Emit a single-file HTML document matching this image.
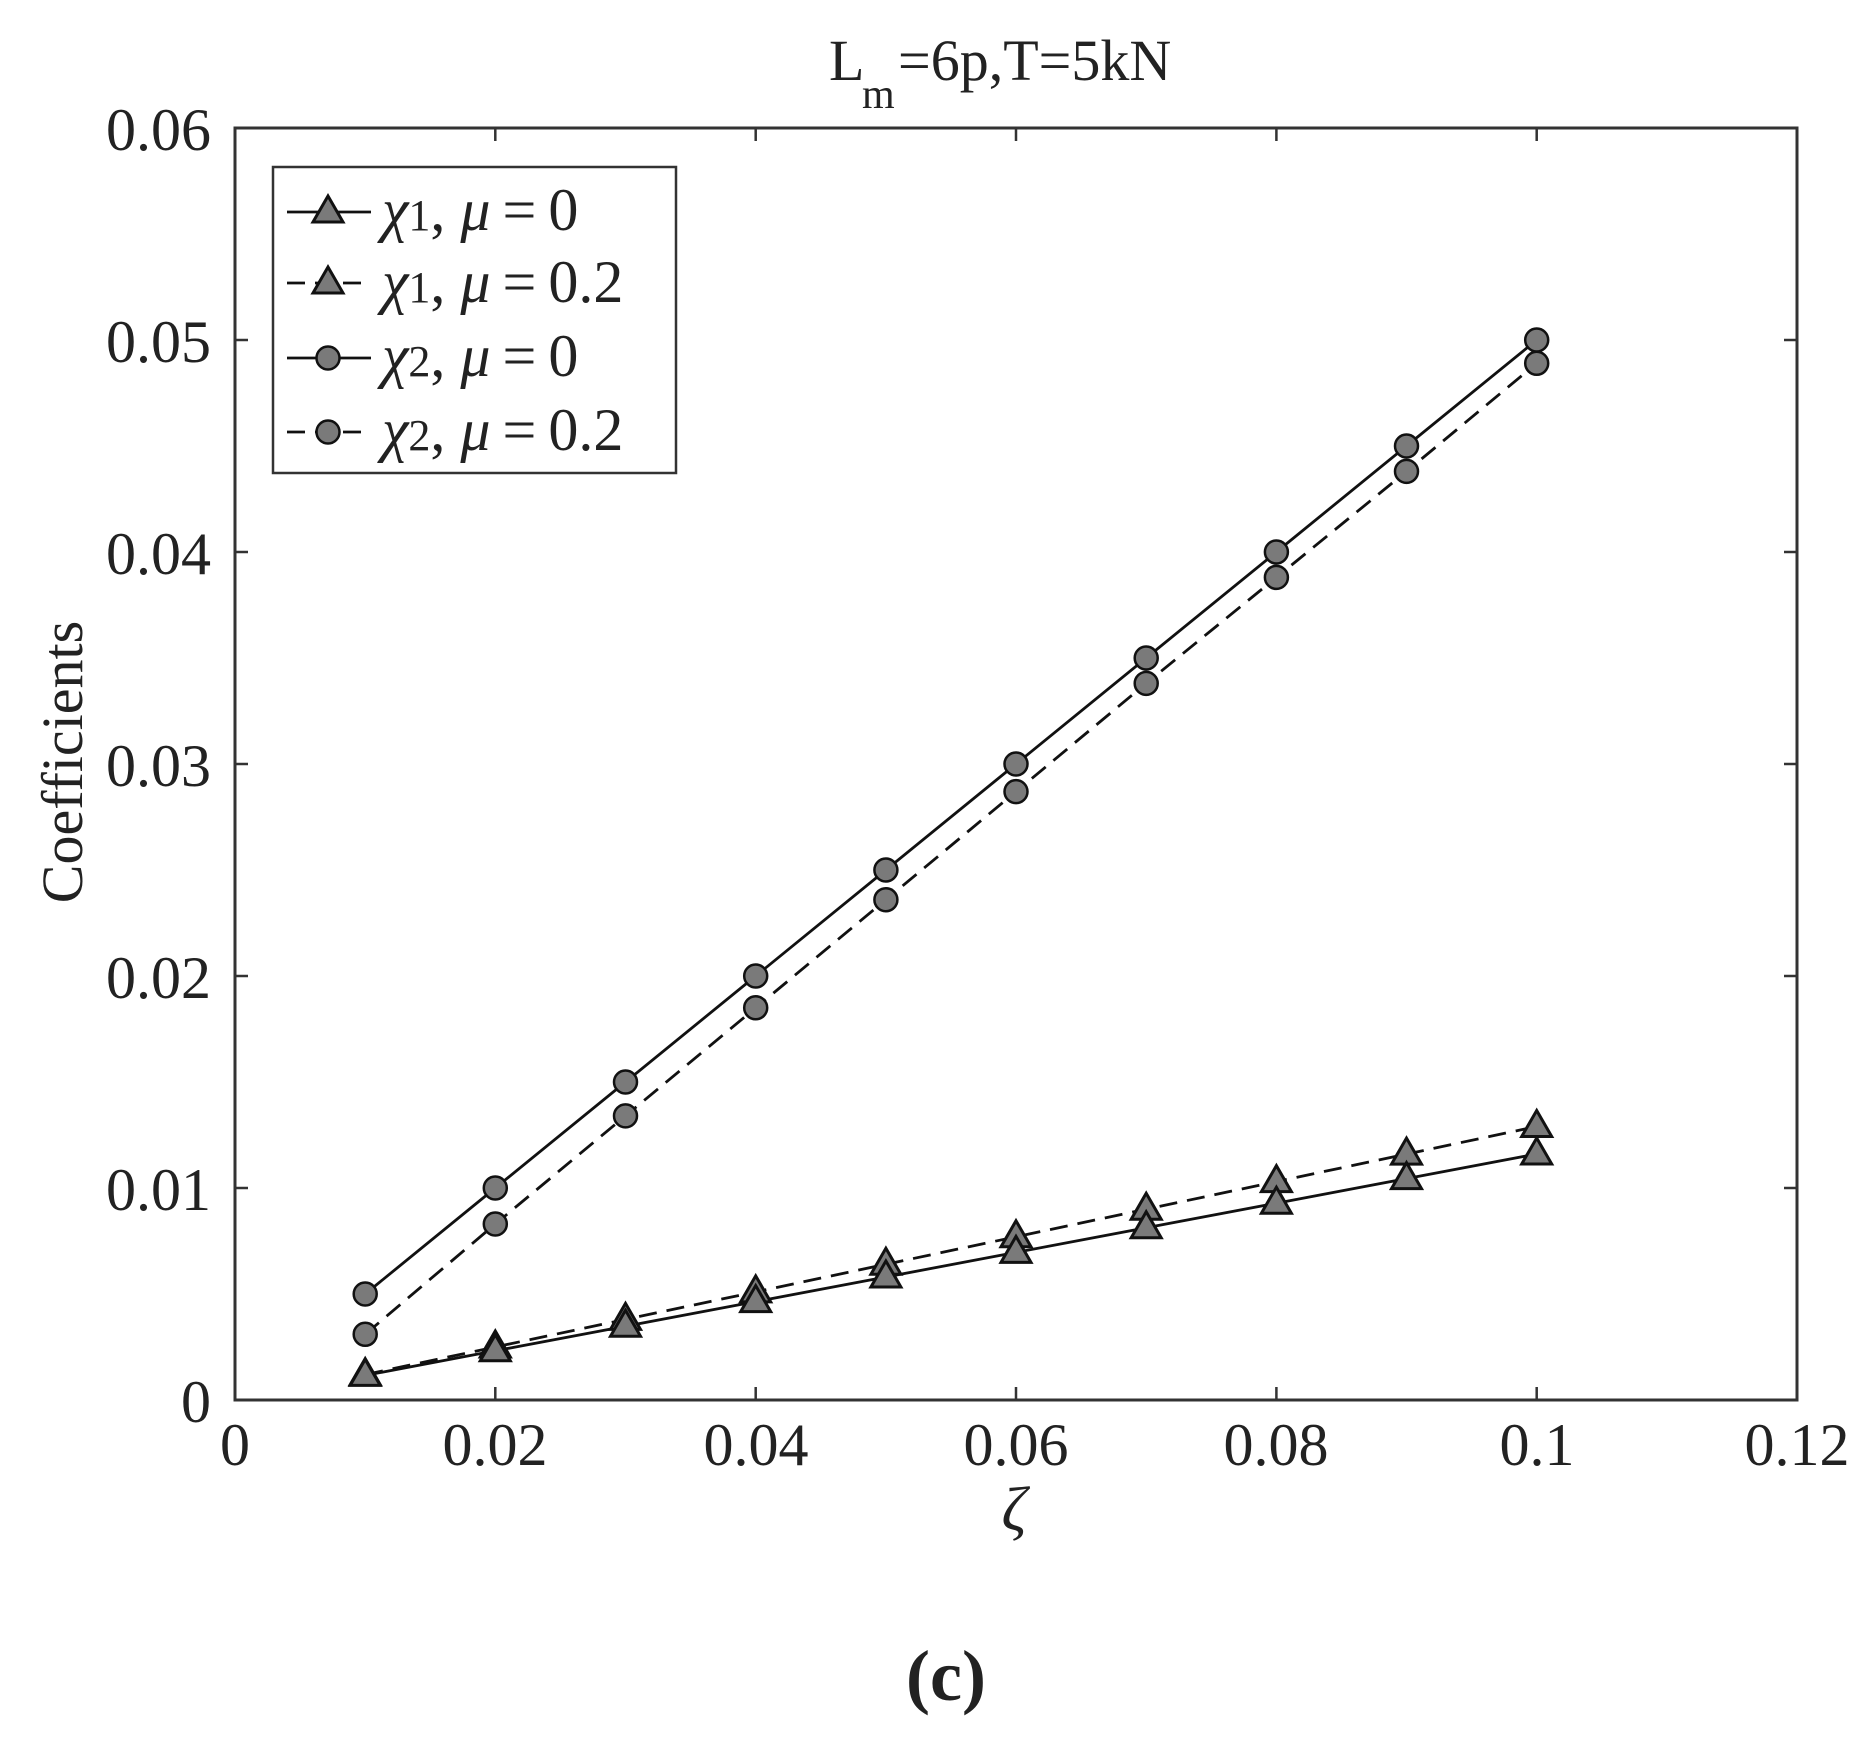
<!DOCTYPE html>
<html><head><meta charset="utf-8"><style>
html,body{margin:0;padding:0;background:#fff;}
svg{display:block;}
text{font-family:"Liberation Serif",serif;fill:#222;}
</style></head><body>
<svg width="1870" height="1739" viewBox="0 0 1870 1739" xmlns="http://www.w3.org/2000/svg">
<defs>
<polygon id="tri" points="0,-16 -15,10 15,10" fill="#7a7a7a" stroke="#111" stroke-width="3" stroke-linejoin="miter"/>
<circle id="cir" r="11.5" fill="#7a7a7a" stroke="#111" stroke-width="2.5"/>
</defs>
<text x="829" y="80" font-size="58">L</text>
<text x="862" y="108" font-size="42">m</text>
<text x="898" y="80" font-size="58">=6p,T=5kN</text>
<rect x="235" y="128" width="1562" height="1272" fill="none" stroke="#333" stroke-width="3"/>
<g stroke="#333" stroke-width="2.5">
<path d="M495.3,1400v-13M755.7,1400v-13M1016,1400v-13M1276.4,1400v-13M1536.7,1400v-13"/>
<path d="M495.3,128v13M755.7,128v13M1016,128v13M1276.4,128v13M1536.7,128v13"/>
<path d="M235,1188h13M235,976h13M235,764h13M235,552h13M235,340h13"/>
<path d="M1797,1188h-13M1797,976h-13M1797,764h-13M1797,552h-13M1797,340h-13"/>
</g>
<g font-size="60" text-anchor="middle">
<text x="235" y="1465">0</text>
<text x="495" y="1465">0.02</text>
<text x="756" y="1465">0.04</text>
<text x="1016" y="1465">0.06</text>
<text x="1276" y="1465">0.08</text>
<text x="1537" y="1465">0.1</text>
<text x="1797" y="1465">0.12</text>
</g>
<g font-size="60" text-anchor="end">
<text x="211" y="1422">0</text>
<text x="211" y="1210">0.01</text>
<text x="211" y="998">0.02</text>
<text x="211" y="786">0.03</text>
<text x="211" y="574">0.04</text>
<text x="211" y="362">0.05</text>
<text x="211" y="150">0.06</text>
</g>
<text x="1014" y="1530" font-size="62" font-style="italic" text-anchor="middle">ζ</text>
<text transform="translate(82,762) rotate(-90)" font-size="58" text-anchor="middle">Coefficients</text>
<text x="946" y="1700" font-size="72" font-weight="bold" text-anchor="middle">(c)</text>
<g fill="none" stroke="#111" stroke-width="2.8">
<polyline points="365.2,1294 495.3,1188 625.5,1082 755.7,976 885.9,870 1016,764 1146.2,658 1276.4,552 1406.5,446 1536.7,340"/>
<polyline stroke-dasharray="18,10" points="365.2,1334.3 495.3,1224 625.5,1115.9 755.7,1007.8 885.9,899.7 1016,791.6 1146.2,683.4 1276.4,577.4 1406.5,471.4 1536.7,363.3"/>
<polyline points="365.2,1375.4 495.3,1350.8 625.5,1326.2 755.7,1301.6 885.9,1277 1016,1252.4 1146.2,1227.8 1276.4,1203.2 1406.5,1178.6 1536.7,1154"/>
<polyline stroke-dasharray="18,10" points="365.2,1374.6 495.3,1347 625.5,1319.4 755.7,1291.9 885.9,1264.3 1016,1236.8 1146.2,1209.2 1276.4,1181.6 1406.5,1154.1 1536.7,1126.5"/>
</g>
<g>
<use href="#cir" x="365.2" y="1294"/><use href="#cir" x="495.3" y="1188"/><use href="#cir" x="625.5" y="1082"/><use href="#cir" x="755.7" y="976"/><use href="#cir" x="885.9" y="870"/><use href="#cir" x="1016" y="764"/><use href="#cir" x="1146.2" y="658"/><use href="#cir" x="1276.4" y="552"/><use href="#cir" x="1406.5" y="446"/><use href="#cir" x="1536.7" y="340"/>
<use href="#cir" x="365.2" y="1334.3"/><use href="#cir" x="495.3" y="1224"/><use href="#cir" x="625.5" y="1115.9"/><use href="#cir" x="755.7" y="1007.8"/><use href="#cir" x="885.9" y="899.7"/><use href="#cir" x="1016" y="791.6"/><use href="#cir" x="1146.2" y="683.4"/><use href="#cir" x="1276.4" y="577.4"/><use href="#cir" x="1406.5" y="471.4"/><use href="#cir" x="1536.7" y="363.3"/>
<use href="#tri" x="365.2" y="1374.6"/><use href="#tri" x="495.3" y="1347"/><use href="#tri" x="625.5" y="1319.4"/><use href="#tri" x="755.7" y="1291.9"/><use href="#tri" x="885.9" y="1264.3"/><use href="#tri" x="1016" y="1236.8"/><use href="#tri" x="1146.2" y="1209.2"/><use href="#tri" x="1276.4" y="1181.6"/><use href="#tri" x="1406.5" y="1154.1"/><use href="#tri" x="1536.7" y="1126.5"/>
<use href="#tri" x="365.2" y="1375.4"/><use href="#tri" x="495.3" y="1350.8"/><use href="#tri" x="625.5" y="1326.2"/><use href="#tri" x="755.7" y="1301.6"/><use href="#tri" x="885.9" y="1277"/><use href="#tri" x="1016" y="1252.4"/><use href="#tri" x="1146.2" y="1227.8"/><use href="#tri" x="1276.4" y="1203.2"/><use href="#tri" x="1406.5" y="1178.6"/><use href="#tri" x="1536.7" y="1154"/>
</g>
<rect x="273" y="167" width="403" height="306" fill="#fff" stroke="#333" stroke-width="2.5"/>
<g stroke="#111" stroke-width="2.8">
<line x1="287" y1="212" x2="371" y2="212"/>
<line x1="287" y1="283" x2="371" y2="283" stroke-dasharray="18,10"/>
<line x1="287" y1="358" x2="371" y2="358"/>
<line x1="287" y1="432" x2="371" y2="432" stroke-dasharray="18,10"/>
</g>
<use href="#tri" x="328" y="212"/>
<use href="#tri" x="328" y="283"/>
<use href="#cir" x="328" y="358"/>
<use href="#cir" x="328" y="432"/>
<g font-size="60">
<text x="382" y="230"><tspan font-style="italic">χ</tspan><tspan font-size="44">1</tspan>, <tspan font-style="italic">μ</tspan><tspan dx="12">=</tspan><tspan dx="12">0</tspan></text>
<text x="382" y="302"><tspan font-style="italic">χ</tspan><tspan font-size="44">1</tspan>, <tspan font-style="italic">μ</tspan><tspan dx="12">=</tspan><tspan dx="12">0.2</tspan></text>
<text x="382" y="376"><tspan font-style="italic">χ</tspan><tspan font-size="44">2</tspan>, <tspan font-style="italic">μ</tspan><tspan dx="12">=</tspan><tspan dx="12">0</tspan></text>
<text x="382" y="450"><tspan font-style="italic">χ</tspan><tspan font-size="44">2</tspan>, <tspan font-style="italic">μ</tspan><tspan dx="12">=</tspan><tspan dx="12">0.2</tspan></text>
</g>
</svg>
</body></html>
